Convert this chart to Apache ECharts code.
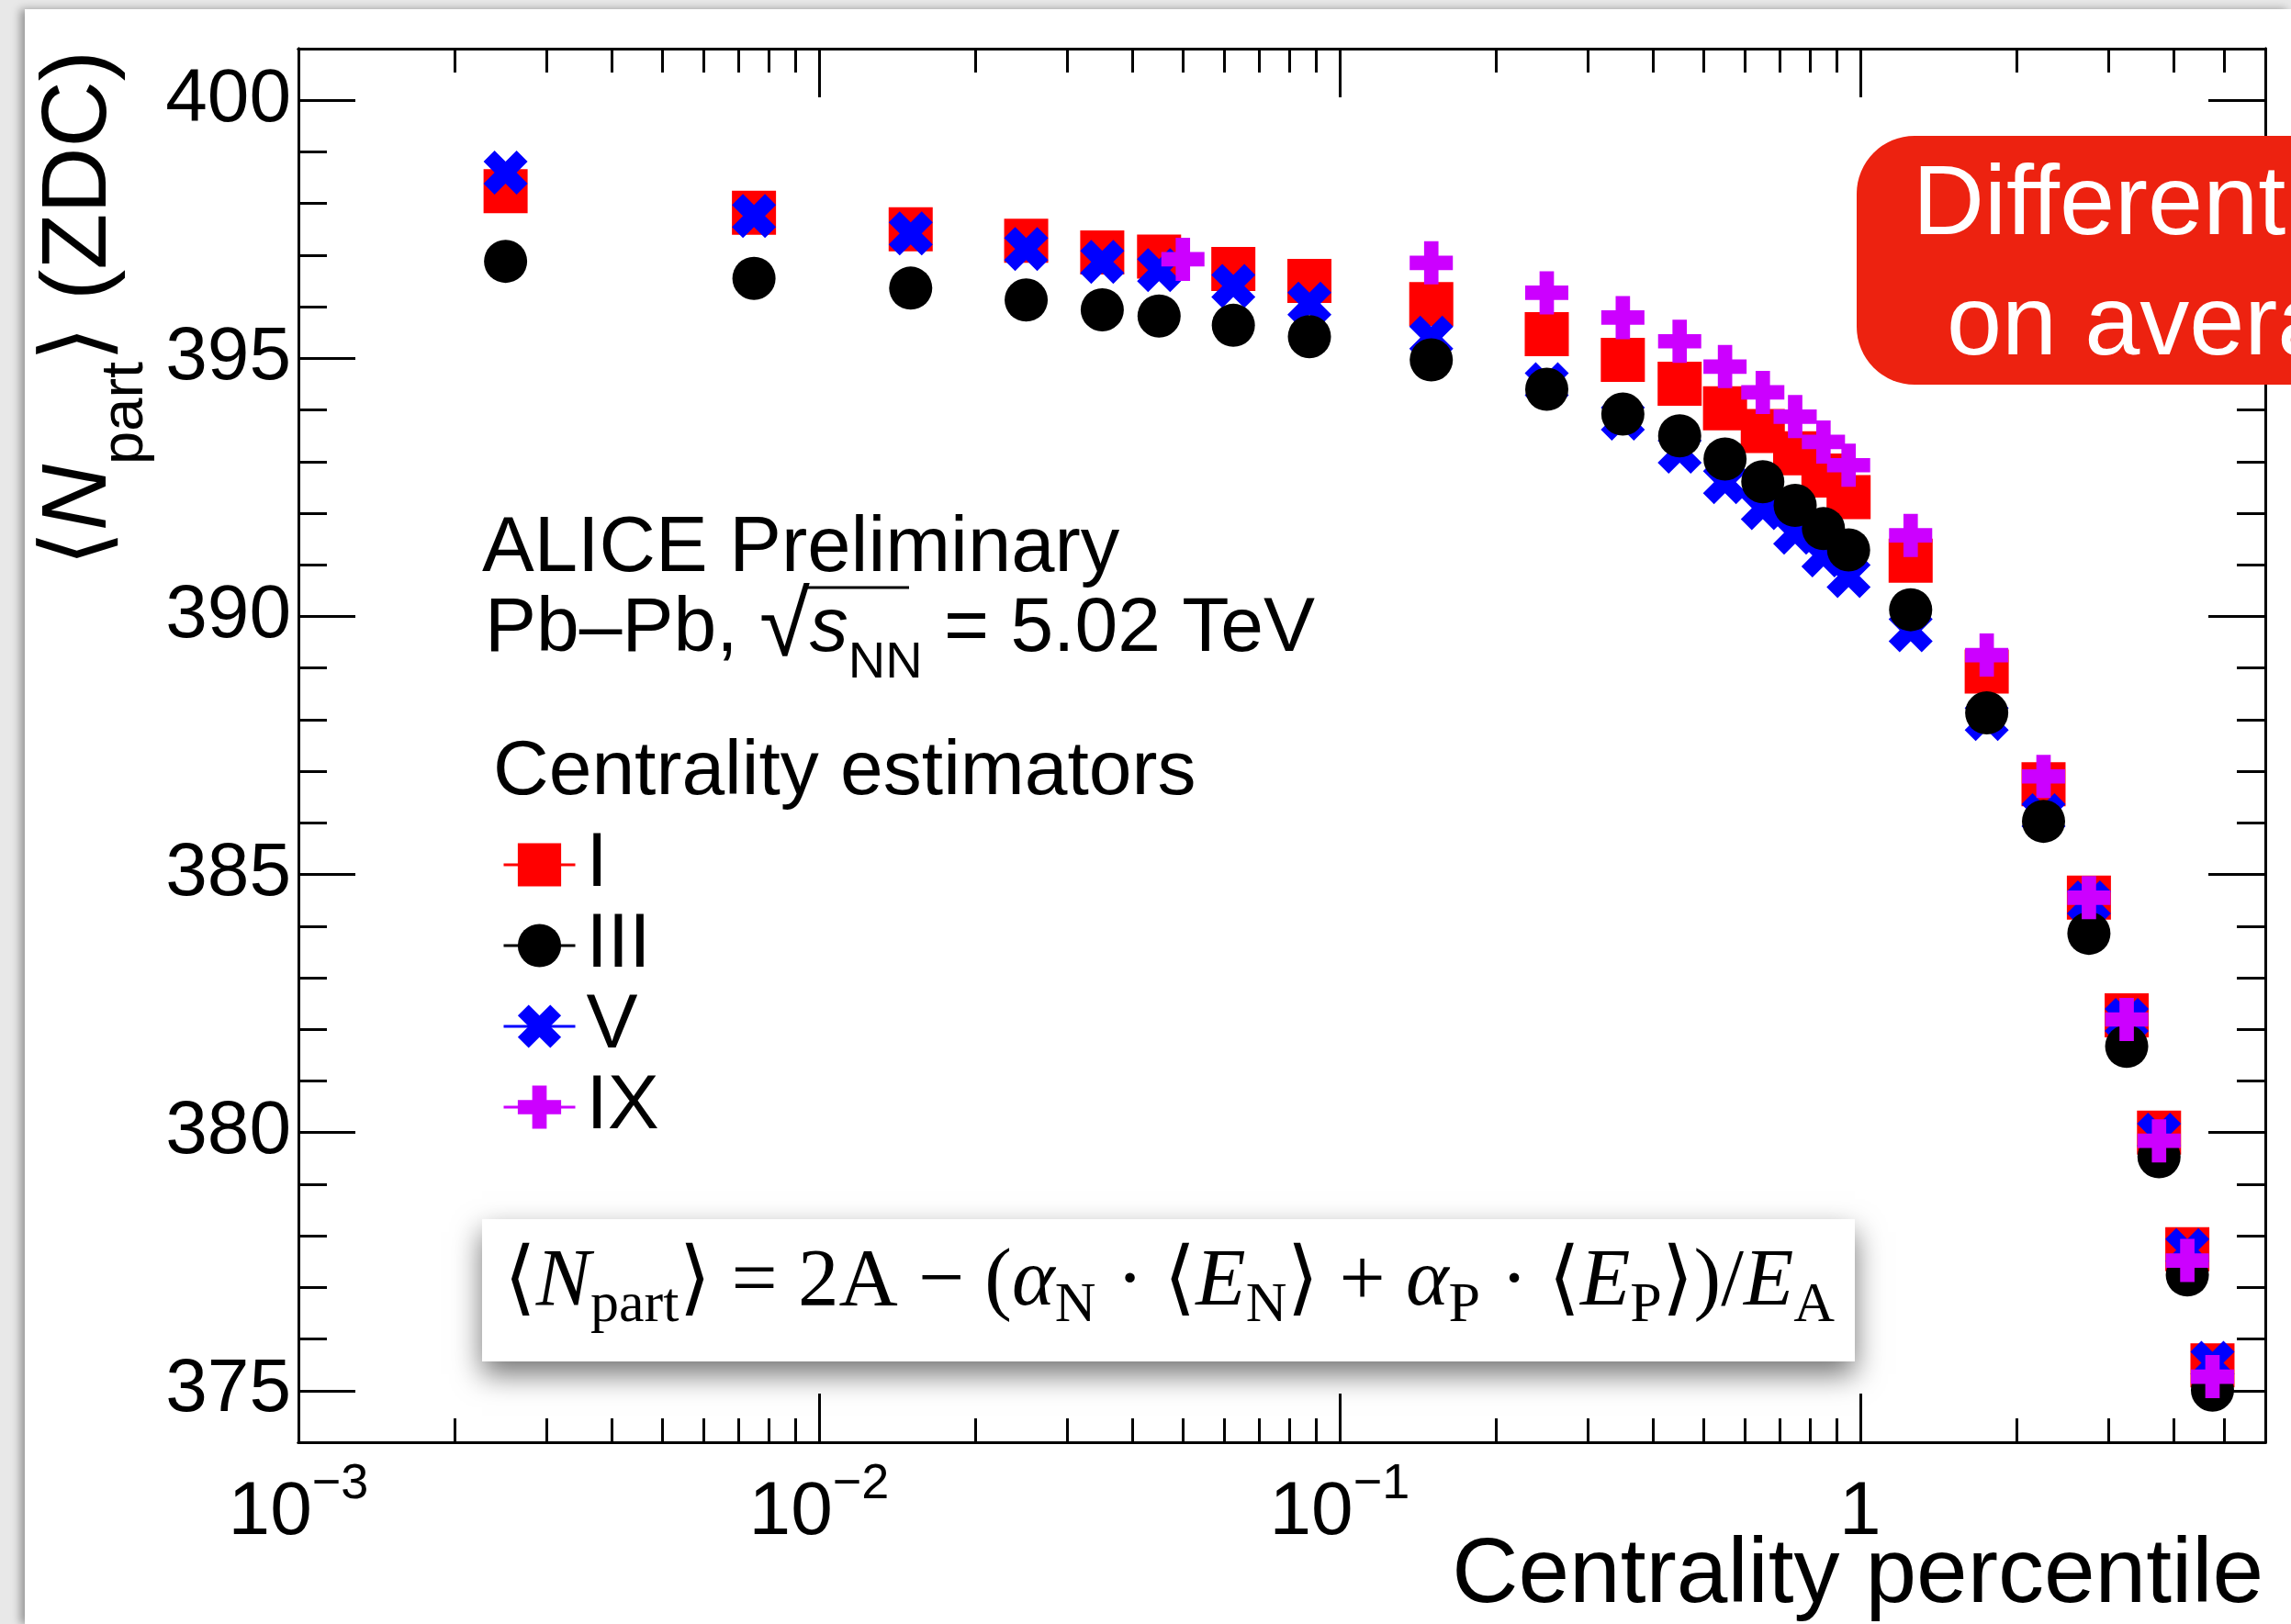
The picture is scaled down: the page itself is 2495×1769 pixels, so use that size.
<!DOCTYPE html>
<html>
<head>
<meta charset="utf-8">
<title>Npart ZDC vs centrality</title>
<style>
  html, body { margin: 0; padding: 0; width: 100%; height: 100%; overflow: hidden; background: #e8e8e8; }
  #panel { position: absolute; left: 27px; top: 10px; right: 0; bottom: 0; background: #fff; box-shadow: -5px 0 9px rgba(0,0,0,0.35); }
  #main { position: absolute; left: 0; top: 0; width: 2495px; height: 1769px; }
</style>
</head>
<body>
<div id="panel"></div>
<div id="main"></div>
<script src="https://cdn.jsdelivr.net/npm/echarts@6/dist/echarts.min.js"></script>
<script type="text/javascript">
// centrality bin centres (percentile)
var xFine = [0.0025, 0.0075, 0.015, 0.025, 0.035, 0.045, 0.0625, 0.0875, 0.15, 0.25, 0.35, 0.45,
             0.55, 0.65, 0.75, 0.85, 0.95, 1.25, 1.75, 2.25, 2.75, 3.25, 3.75, 4.25, 4.75];
var xIX = [0.05, 0.15, 0.25, 0.35, 0.45, 0.55, 0.65, 0.75, 0.85, 0.95, 1.25, 1.75, 2.25, 2.75,
           3.25, 3.75, 4.25, 4.75];

// <Npart> from the ZDC for each estimator
var npartI = [398.24, 397.82, 397.50, 397.28, 397.05, 396.97, 396.73, 396.50, 396.05, 395.47, 394.97, 394.51,
              394.03, 393.59, 393.16, 392.73, 392.31, 391.08, 388.93, 386.75, 384.55, 382.27, 380.00, 377.74, 375.49];
var npartIII = [396.88, 396.55, 396.36, 396.13, 395.94, 395.82, 395.64, 395.42, 394.97, 394.40, 393.92, 393.50,
                393.05, 392.61, 392.15, 391.70, 391.29, 390.13, 388.13, 386.03, 383.86, 381.67, 379.53, 377.24, 375.01];
var npartV = [398.60, 397.76, 397.42, 397.12, 396.87, 396.71, 396.40, 396.06, 395.40, 394.50, 393.83, 393.19,
              392.60, 392.10, 391.62, 391.18, 390.78, 389.73, 388.01, 386.15, 384.46, 382.18, 379.96, 377.72, 375.54];
var npartIX = [396.92, 396.85, 396.27, 395.79, 395.33, 394.84, 394.34, 393.87, 393.38, 392.93, 391.57, 389.25,
               386.90, 384.55, 382.19, 379.84, 377.52, 375.27];

// axis ticks
var xMajorTicks = [0.001, 0.01, 0.1, 1];
var xTickBase = ['10', '10', '10', '1'];
var xTickExp = ['\u22123', '\u22122', '\u22121', ''];
var xMinorTicks = [0.002, 0.003, 0.004, 0.005, 0.006, 0.007, 0.008, 0.009,
                   0.02, 0.03, 0.04, 0.05, 0.06, 0.07, 0.08, 0.09,
                   0.2, 0.3, 0.4, 0.5, 0.6, 0.7, 0.8, 0.9,
                   2, 3, 4, 5, 6];
var yMajorTicks = [375, 380, 385, 390, 395, 400];
var yMinorTicks = [374, 375, 376, 377, 378, 379, 380, 381, 382, 383, 384, 385, 386, 387,
                   388, 389, 390, 391, 392, 393, 394, 395, 396, 397, 398, 399, 400, 401];

var sans = 'Liberation Sans, Arial, Helvetica, sans-serif';
var serif = 'Liberation Serif, DejaVu Serif, Times New Roman, serif';

// ROOT style markers
var plusPath = 'path://M1,0H2V1H3V2H2V3H1V2H0V1H1Z';
var crossPath = 'path://M0,0.75L0.75,0L1.5,0.75L2.25,0L3,0.75L2.25,1.5L3,2.25L2.25,3L1.5,2.25L0.75,3L0,2.25L0.75,1.5Z';

function pts(xs, ys) {
    return xs.map(function (x, i) { return [x, ys[i]]; });
}
function mk(name, xs, ys, symbol, size, color) {
    return {
        name: name, type: 'line', data: pts(xs, ys),
        symbol: symbol, symbolSize: size, showSymbol: true,
        itemStyle: { color: color },
        lineStyle: { color: color, width: 3, opacity: 0 },
        emphasis: { disabled: true },
        animation: false
    };
}

function xAx(pos, ticks, len, labels) {
    return {
        type: 'log', logBase: 10, min: 0.001, max: 6, position: pos,
        axisLine: { show: true, onZero: false, lineStyle: { color: '#000', width: 3 } },
        axisTick: { show: true, inside: true, length: len, customValues: ticks,
                    lineStyle: { color: '#000', width: 3 } },
        axisLabel: labels ? {
            customValues: xMajorTicks, margin: 19,
            formatter: function (v) {
                for (var i = 0; i < xMajorTicks.length; i++) {
                    if (Math.abs(Math.log10(v) - Math.log10(xMajorTicks[i])) < 1e-6) {
                        return '{b|' + xTickBase[i] + '}' + (xTickExp[i] ? '{s|' + xTickExp[i] + '}' : '');
                    }
                }
                return '';
            },
            rich: {
                b: { fontSize: 82, fontFamily: sans, color: '#000', lineHeight: 116 },
                s: { fontSize: 54, fontFamily: sans, color: '#000', padding: [0, 0, 62, 0] }
            }
        } : { show: false },
        splitLine: { show: false }
    };
}
function yAx(pos, ticks, len, labels) {
    return {
        type: 'value', min: 374, max: 401, position: pos,
        axisLine: { show: true, onZero: false, lineStyle: { color: '#000', width: 3 } },
        axisTick: { show: true, inside: true, length: len, customValues: ticks,
                    lineStyle: { color: '#000', width: 3 } },
        axisLabel: labels ? {
            customValues: yMajorTicks, margin: 8,
            fontSize: 82, fontFamily: sans, color: '#000'
        } : { show: false },
        splitLine: { show: false }
    };
}

var myChart = echarts.init(document.getElementById('main'));
var option = {
    backgroundColor: 'transparent',
    animation: false,
    grid: { left: 325, right: 28, top: 53, bottom: 198, containLabel: false },
    xAxis: [
        xAx('bottom', xMajorTicks, 53, true),
        xAx('bottom', xMinorTicks, 26, false),
        xAx('top', xMajorTicks, 53, false),
        xAx('top', xMinorTicks, 26, false)
    ],
    yAxis: [
        yAx('left', yMajorTicks, 62, true),
        yAx('left', yMinorTicks, 31, false),
        yAx('right', yMajorTicks, 62, false),
        yAx('right', yMinorTicks, 31, false)
    ],
    legend: {
        orient: 'vertical', left: 542, top: 895,
        itemWidth: 78, itemHeight: 59, itemGap: 4,
        selectedMode: false,
        data: ['I', 'III', 'V', 'IX'],
        textStyle: { fontSize: 84, fontFamily: sans, color: '#000', lineHeight: 59, padding: [0, 0, 0, 7] },
        lineStyle: { width: 3, opacity: 1 }
    },
    series: [
        mk('I', xFine, npartI, 'rect', 48, '#ff0000'),
        mk('V', xFine, npartV, crossPath, 48, '#0000ff'),
        mk('III', xFine, npartIII, 'circle', 47, '#000000'),
        mk('IX', xIX, npartIX, plusPath, 47, '#cc00ff')
    ],
    graphic: [
        // y axis title
        {
            type: 'text', x: 87, y: 55, rotation: Math.PI / 2, z: 100,
            style: {
                text: '{n|\u27e8}{i|N}{sub|part}{n|\u27e9 (ZDC)}',
                align: 'right', verticalAlign: 'middle', fill: '#000',
                rich: {
                    n: { fontSize: 100, fontFamily: sans, fill: '#000' },
                    i: { fontSize: 100, fontFamily: sans, fontStyle: 'italic', fill: '#000' },
                    sub: { fontSize: 65, fontFamily: sans, fill: '#000', padding: [100, 0, 0, 0] }
                }
            }
        },
        // x axis title
        {
            type: 'text', x: 2465, y: 1717, z: 100,
            style: { text: 'Centrality percentile', fontSize: 100, fontFamily: sans, fill: '#000',
                     align: 'right', verticalAlign: 'middle' }
        },
        // header text
        {
            type: 'text', x: 525, y: 599, z: 100,
            style: { text: 'ALICE Preliminary', fontSize: 85, fontFamily: sans, fill: '#000',
                     align: 'left', verticalAlign: 'middle' }
        },
        {
            type: 'text', x: 528, y: 686, z: 100,
            style: {
                text: '{n|Pb\u2013Pb, }{r|\u221a}{i|s}{sub|NN}{n| = 5.02 TeV}',
                align: 'left', verticalAlign: 'middle', fill: '#000',
                rich: {
                    n: { fontSize: 84, fontFamily: sans, fill: '#000' },
                    r: { fontSize: 100, fontFamily: sans, fill: '#000' },
                    i: { fontSize: 84, fontFamily: sans, fontStyle: 'italic', fill: '#000' },
                    sub: { fontSize: 56, fontFamily: sans, fill: '#000', padding: [74, 0, 0, 0] }
                }
            }
        },
        {
            type: 'line', z: 100,
            shape: { x1: 878, y1: 640, x2: 990, y2: 640 },
            style: { stroke: '#000', lineWidth: 3 }
        },
        {
            type: 'text', x: 537, y: 842, z: 100,
            style: { text: 'Centrality estimators', fontSize: 84, fontFamily: sans, fill: '#000',
                     align: 'left', verticalAlign: 'middle' }
        },
        // formula box
        {
            type: 'rect', z: 100,
            shape: { x: 525, y: 1328, width: 1495, height: 155 },
            style: { fill: '#fff', shadowBlur: 30, shadowOffsetY: 14, shadowColor: 'rgba(0,0,0,0.55)' }
        },
        {
            type: 'text', x: 549, y: 1398, z: 101,
            style: {
                text: '{n|\u27e8}{i|N}{sub|part}{n|\u27e9 = 2A \u2212 (}{i|\u03b1}{sub|N}{n| \u00b7 \u27e8}{i|E}{sub|N}' +
                      '{n|\u27e9 + }{i|\u03b1}{sub|P}{n| \u00b7 \u27e8}{i|E}{sub|P}{n|\u27e9)/}{i|E}{sub|A}',
                align: 'left', verticalAlign: 'middle', fill: '#000',
                rich: {
                    n: { fontSize: 89, fontFamily: serif, fill: '#000' },
                    i: { fontSize: 89, fontFamily: serif, fontStyle: 'italic', fill: '#000' },
                    sub: { fontSize: 62, fontFamily: serif, fill: '#000', padding: [50, 0, 0, 0] }
                }
            }
        },
        // red message box (cut by the page edge)
        {
            type: 'rect', z: 100,
            shape: { x: 2022, y: 148, width: 600, height: 271, r: 63 },
            style: { fill: '#ed2210' }
        },
        {
            type: 'text', x: 2083, y: 225, z: 101,
            style: { text: 'Different', fontSize: 108, fontFamily: sans, fill: '#fff',
                     align: 'left', verticalAlign: 'middle' }
        },
        {
            type: 'text', x: 2120, y: 356, z: 101,
            style: { text: 'on average', fontSize: 108, fontFamily: sans, fill: '#fff',
                     align: 'left', verticalAlign: 'middle' }
        }
    ]
};
myChart.setOption(option);
</script>
</body>
</html>
